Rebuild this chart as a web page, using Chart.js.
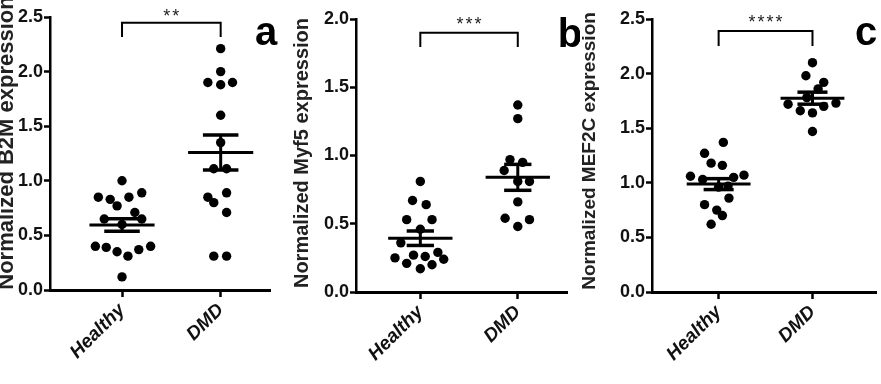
<!DOCTYPE html>
<html><head><meta charset="utf-8">
<script src="https://cdn.jsdelivr.net/npm/chart.js@4.4.1/dist/chart.umd.min.js"></script>
<style>
html,body{margin:0;padding:0;background:#fff;}
#wrap{position:relative;width:881px;height:384px;overflow:hidden;background:#fff;}
canvas{position:absolute;top:0;}
</style></head><body>
<div id="wrap">
<canvas id="ca" width="290" height="384" style="left:0px"></canvas>
<canvas id="cb" width="290" height="384" style="left:290px"></canvas>
<canvas id="cc" width="301" height="384" style="left:580px"></canvas>
</div>
<script>
// ---------- data ----------
const categories = ['Healthy', 'DMD'];

// Panel a: B2M
const b2mHealthy = [1.00, 0.85, 0.83, 0.85, 0.89, 0.77, 0.71, 0.65, 0.65, 0.60, 0.40, 0.39, 0.35, 0.31, 0.37, 0.40, 0.12];
const b2mHealthyJitter = [0, -0.24, -0.12, 0.07, 0.2, -0.05, 0.13, -0.18, 0.2, 0, -0.27, -0.16, -0.05, 0.06, 0.17, 0.29, 0];
const b2mDMD = [2.21, 2.00, 1.90, 1.88, 1.90, 1.60, 1.35, 1.11, 1.11, 0.89, 0.85, 0.80, 0.71, 0.31, 0.31];
const b2mDMDJitter = [0, 0, -0.13, 0, 0.12, 0, 0, -0.07, 0.06, 0.06, -0.13, -0.07, 0.06, -0.07, 0.06];
const b2mMeans = [0.595, 1.26];
const b2mSEM = [0.057, 0.16];
const b2mTicks = ['0.0', '0.5', '1.0', '1.5', '2.0', '2.5'];

// Panel b: Myf5
const myf5Healthy = [0.81, 0.67, 0.64, 0.53, 0.53, 0.46, 0.36, 0.25, 0.21, 0.27, 0.26, 0.29, 0.24, 0.17, 0.20];
const myf5HealthyJitter = [0, -0.08, 0.06, -0.14, 0.12, 0, -0.2, -0.26, -0.14, -0.07, 0.05, 0.18, 0.24, 0, 0.12];
const myf5DMD = [1.37, 1.27, 0.97, 0.95, 0.89, 0.81, 0.81, 0.66, 0.54, 0.48, 0.53];
const myf5DMDJitter = [0, 0, -0.08, 0.05, -0.14, 0, 0.12, 0, -0.13, 0, 0.12];
const myf5Means = [0.394, 0.84];
const myf5SEM = [0.053, 0.095];
const myf5Ticks = ['0.0', '0.5', '1.0', '1.5', '2.0'];

// Panel c: MEF2C
const mef2cHealthy = [1.37, 1.27, 1.18, 1.16, 1.06, 1.05, 1.07, 1.03, 0.96, 0.97, 0.86, 0.80, 0.75, 0.70, 0.62];
const mef2cHealthyJitter = [0.05, -0.15, -0.08, 0.04, -0.3, 0.16, 0.27, -0.17, 0, 0.1, 0.11, -0.15, -0.02, 0.04, -0.08];
const mef2cDMD = [2.10, 1.98, 1.92, 1.86, 1.78, 1.72, 1.66, 1.64, 1.70, 1.73, 1.47];
const mef2cDMDJitter = [0, -0.07, 0.12, 0.06, -0.06, -0.26, -0.13, 0, 0.12, 0.25, 0];
const mef2cMeans = [0.988, 1.775];
const mef2cSEM = [0.05, 0.055];
const mef2cTicks = ['0.0', '0.5', '1.0', '1.5', '2.0', '2.5'];

// significance labels, panel letters, axis titles
const sigLabels = ['**', '***', '****'];
const panelLetters = ['a', 'b', 'c'];
const yTitles = ['Normalized B2M expression', 'Normalized Myf5 expression', 'Normalized MEF2C expression'];

// ---------- drawing ----------
const FONT = "'Liberation Sans', Arial, Helvetica, sans-serif";

const annotPlugin = {
  id: 'annot',
  afterDraw(chart) {
    const o = chart.options.plugins.annot;
    const ctx = chart.ctx;
    const xs = chart.scales.x, ys = chart.scales.y;
    ctx.save();
    // y-axis title
    ctx.save();
    ctx.translate(o.titleX, o.titleY);
    ctx.rotate(-Math.PI / 2);
    ctx.fillStyle = '#222';
    ctx.font = 'bold ' + o.titleSize + 'px ' + FONT;
    ctx.textAlign = 'center';
    ctx.textBaseline = 'middle';
    ctx.fillText(o.title, 0, 0);
    ctx.restore();
    // significance asterisks
    ctx.fillStyle = '#222';
    ctx.font = '18px ' + FONT;
    ctx.textAlign = 'center';
    ctx.textBaseline = 'alphabetic';
    const cx = xs.getPixelForValue(0.5);
    const cy = ys.getPixelForValue(o.sigY) + 10;
    const n = o.sig.length;
    for (let i = 0; i < n; i++) {
      ctx.fillText(o.sig[i], cx + (i - (n - 1) / 2) * o.sigSpacing, cy);
    }
    // panel letter
    ctx.fillStyle = '#000';
    ctx.font = 'bold 40px ' + FONT;
    ctx.textAlign = 'center';
    ctx.fillText(o.letter, o.letterX, o.letterY);
    ctx.restore();
  }
};

function seg(x1, y1, x2, y2, w) {
  return {
    type: 'scatter', showLine: true,
    data: [{x: x1, y: y1}, {x: x2, y: y2}],
    borderColor: '#000', borderWidth: w, pointRadius: 0, clip: false
  };
}

function makeChart(id, p) {
  const datasets = [];
  for (let g = 0; g < 2; g++) {
    const m = p.means[g], s = p.sem[g];
    datasets.push(seg(g - p.meanHalf, m, g + p.meanHalf, m, 3));
    datasets.push(seg(g - p.capHalf, m + s, g + p.capHalf, m + s, 3.5));
    datasets.push(seg(g - p.capHalf, m - s, g + p.capHalf, m - s, 3.5));
    datasets.push(seg(g, m - s, g, m + s, 3));
  }
  datasets.push({
    type: 'scatter', showLine: true,
    data: [{x: 0, y: p.bracket[1]}, {x: 0, y: p.bracket[0]}, {x: 1, y: p.bracket[0]}, {x: 1, y: p.bracket[1]}],
    borderColor: '#000', borderWidth: 2, pointRadius: 0, clip: false
  });
  const pts = [];
  p.healthy.forEach((v, i) => pts.push({x: 0 + p.hJit[i], y: v}));
  p.dmd.forEach((v, i) => pts.push({x: 1 + p.dJit[i], y: v}));
  datasets.push({
    type: 'scatter', data: pts, pointRadius: 4.7, pointBackgroundColor: '#000',
    pointBorderWidth: 0, borderWidth: 0, clip: false
  });

  return new Chart(document.getElementById(id), {
    type: 'scatter',
    data: {datasets},
    plugins: [annotPlugin],
    options: {
      responsive: false, animation: false, devicePixelRatio: 1,
      events: [],
      layout: {padding: {left: 0, top: p.top, right: p.right, bottom: 0}},
      plugins: {
        legend: {display: false}, tooltip: {enabled: false},
        annot: {
          sig: p.sig, sigY: p.sigY, sigSpacing: p.sigSpacing,
          letter: p.letter, letterX: p.letterX, letterY: p.letterY,
          title: p.title, titleSize: p.titleSize, titleX: p.titleX, titleY: p.titleY
        }
      },
      scales: {
        x: {
          type: 'linear', min: p.xMin, max: p.xMax,
          afterBuildTicks: s => { s.ticks = [{value: 0}, {value: 1}]; },
          afterFit: s => { s.height = p.xHeight; },
          ticks: {
            callback: v => categories[v], autoSkip: false,
            minRotation: 45, maxRotation: 45, padding: 2,
            color: '#111', font: {family: FONT, size: 19, weight: 'bold', style: 'italic'}
          },
          grid: {display: true, drawOnChartArea: false, drawTicks: true, tickLength: 7, tickWidth: 2.5, color: '#000'},
          border: {display: true, color: '#000', width: 3}
        },
        y: {
          type: 'linear', min: 0, max: p.yMax,
          afterFit: s => { s.width = p.yWidth; },
          ticks: {
            stepSize: 0.5, padding: 1, color: '#111',
            callback: (v, i) => p.ticks[i],
            font: {family: FONT, size: 18, weight: 'bold'}
          },
          grid: {display: true, drawOnChartArea: false, drawTicks: true, tickLength: 6, tickWidth: 2.5, color: '#000'},
          border: {display: true, color: '#000', width: 2.5},
          title: {display: false}
        }
      }
    }
  });
}

makeChart('ca', {
  healthy: b2mHealthy, hJit: b2mHealthyJitter, dmd: b2mDMD, dJit: b2mDMDJitter,
  means: b2mMeans, sem: b2mSEM, ticks: b2mTicks, yMax: 2.5,
  title: yTitles[0], titleSize: 22, titleX: 7, titleY: 143,
  top: 17, right: 20, yWidth: 50, xHeight: 94, xMin: -0.73, xMax: 1.5,
  meanHalf: 0.33, capHalf: 0.18, bracket: [2.448, 2.317],
  sig: sigLabels[0], sigY: 2.546, sigSpacing: 9,
  letter: panelLetters[0], letterX: 266, letterY: 45
});
makeChart('cb', {
  healthy: myf5Healthy, hJit: myf5HealthyJitter, dmd: myf5DMD, dJit: myf5DMDJitter,
  means: myf5Means, sem: myf5SEM, ticks: myf5Ticks, yMax: 2.0,
  title: yTitles[1], titleSize: 20, titleX: 12, titleY: 153,
  top: 19, right: 13, yWidth: 66, xHeight: 92, xMin: -0.66, xMax: 1.505,
  meanHalf: 0.33, capHalf: 0.14, bracket: [1.90, 1.795],
  sig: sigLabels[1], sigY: 1.99, sigSpacing: 9,
  letter: panelLetters[1], letterX: 280, letterY: 47
});
makeChart('cc', {
  healthy: mef2cHealthy, hJit: mef2cHealthyJitter, dmd: mef2cDMD, dJit: mef2cDMDJitter,
  means: mef2cMeans, sem: mef2cSEM, ticks: mef2cTicks, yMax: 2.5,
  title: yTitles[2], titleSize: 19, titleX: 10, titleY: 151,
  top: 19, right: 0, yWidth: 72, xHeight: 92, xMin: -0.71, xMax: 1.68,
  meanHalf: 0.34, capHalf: 0.16, bracket: [2.39, 2.253],
  sig: sigLabels[2], sigY: 2.51, sigSpacing: 9,
  letter: panelLetters[2], letterX: 286, letterY: 45
});
</script>
</body></html>
